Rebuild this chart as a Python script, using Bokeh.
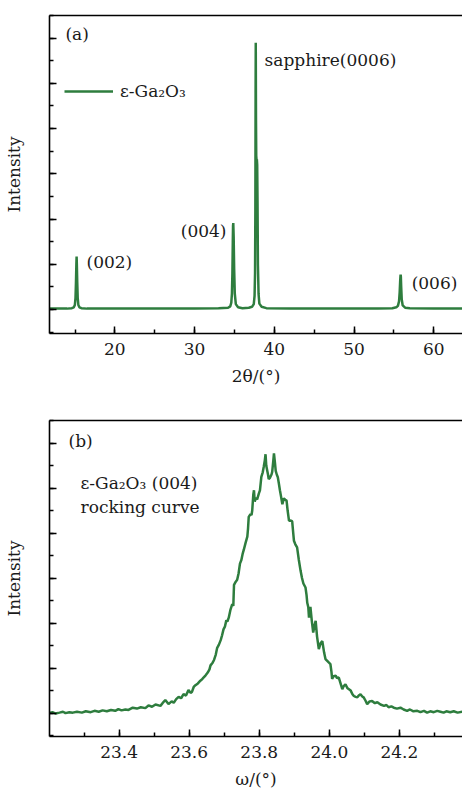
from bokeh.plotting import figure
from bokeh.models import (ColumnDataSource, Label, LinearAxis, SingleIntervalTicker, FixedTicker,
                          Range1d, CustomJSTickFormatter, PrintfTickFormatter)
from bokeh.layouts import column
from bokeh.embed import file_html
from bokeh.resources import INLINE

# ---------------- data: panel (a) XRD 2theta scan ----------------
two_theta = [11.8, 13.0, 14.0, 14.6, 14.85, 14.98, 15.06, 15.12, 15.17, 15.2, 15.23, 15.28, 15.34,
             15.42, 15.55, 15.8, 16.5, 20.0, 25.0, 30.0, 33.0, 34.2,
             34.47, 34.6, 34.68, 34.74, 34.79, 34.82, 34.85, 34.9, 34.96, 35.04, 35.17, 35.45, 36.0, 36.8,
             37.2, 37.42, 37.52, 37.58, 37.62, 37.65, 37.67, 37.70, 37.73, 37.77, 37.81, 37.85, 37.89,
             37.94, 38.02, 38.12, 38.4, 39.0, 42.0, 46.0, 50.0, 53.0, 54.8,
             55.3, 55.5, 55.64, 55.72, 55.78, 55.82, 55.84, 55.87, 55.91, 55.98, 56.1, 56.4, 57.0, 60.0, 63.6]
xrd_intensity = [0.02, 0.02, 0.02, 0.03, 0.05, 0.10, 0.25, 0.60, 1.00, 1.17, 1.00, 0.60, 0.25,
                 0.10, 0.05, 0.03, 0.02, 0.02, 0.02, 0.02, 0.03, 0.04,
                 0.07, 0.15, 0.35, 0.80, 1.50, 1.85, 1.91, 1.60, 0.90, 0.35, 0.12, 0.05, 0.03, 0.04,
                 0.06, 0.12, 0.30, 0.80, 2.20, 4.80, 5.90, 4.20, 3.40, 3.30, 3.32, 3.20, 2.40,
                 1.00, 0.35, 0.13, 0.06, 0.03, 0.02, 0.02, 0.02, 0.02, 0.03,
                 0.05, 0.08, 0.18, 0.38, 0.62, 0.74, 0.77, 0.72, 0.50, 0.22, 0.09, 0.04, 0.03, 0.02, 0.02]

# ---------------- data: panel (b) rocking curve ----------------
omega = [23.200, 23.210, 23.219, 23.230, 23.240, 23.247, 23.258, 23.268, 23.280, 23.294, 23.305, 23.319,
         23.330, 23.342, 23.353, 23.365, 23.377, 23.389, 23.398, 23.407, 23.418, 23.427, 23.439, 23.451,
         23.462, 23.475, 23.484, 23.494, 23.504, 23.518, 23.524, 23.532, 23.541, 23.550, 23.556, 23.563,
         23.570, 23.577, 23.584, 23.591, 23.598, 23.604, 23.608, 23.613, 23.618, 23.625, 23.632, 23.637,
         23.641, 23.647, 23.653, 23.658, 23.661, 23.667, 23.671, 23.676, 23.680, 23.685, 23.690, 23.694,
         23.698, 23.702, 23.706, 23.709, 23.713, 23.718, 23.723, 23.726, 23.728, 23.733, 23.737, 23.741,
         23.745, 23.749, 23.753, 23.756, 23.761, 23.766, 23.768, 23.770, 23.775, 23.778, 23.780, 23.783,
         23.785, 23.787, 23.790, 23.794, 23.799, 23.802, 23.806, 23.810, 23.813, 23.816, 23.818, 23.820,
         23.823, 23.825, 23.827, 23.830, 23.832, 23.835, 23.837, 23.840, 23.842, 23.845, 23.847, 23.850,
         23.853, 23.856, 23.859, 23.862, 23.866, 23.868, 23.870, 23.874, 23.878, 23.881, 23.885, 23.890,
         23.894, 23.897, 23.899, 23.903, 23.908, 23.913, 23.918, 23.922, 23.926, 23.932, 23.935, 23.937,
         23.940, 23.942, 23.944, 23.946, 23.950, 23.954, 23.958, 23.961, 23.965, 23.970, 23.975, 23.980,
         23.985, 23.989, 23.994, 23.999, 24.003, 24.006, 24.008, 24.012, 24.018, 24.022, 24.027, 24.032,
         24.037, 24.041, 24.046, 24.052, 24.061, 24.066, 24.070, 24.075, 24.080, 24.084, 24.089, 24.094,
         24.098, 24.103, 24.108, 24.115, 24.122, 24.130, 24.137, 24.146, 24.156, 24.163, 24.169, 24.177,
         24.184, 24.193, 24.203, 24.212, 24.222, 24.230, 24.240, 24.251, 24.260, 24.270, 24.279, 24.288,
         24.298, 24.308, 24.317, 24.326, 24.334, 24.345, 24.355, 24.366, 24.379]
rc_intensity = [0.00, 0.02, -0.01, 0.01, 0.03, 0.00, 0.02, 0.01, 0.03, 0.01, 0.04, 0.02,
                0.05, 0.03, 0.06, 0.04, 0.07, 0.05, 0.09, 0.06, 0.08, 0.07, 0.12, 0.10,
                0.13, 0.11, 0.17, 0.14, 0.19, 0.16, 0.22, 0.29, 0.20, 0.26, 0.23, 0.31,
                0.36, 0.33, 0.42, 0.39, 0.51, 0.45, 0.47, 0.58, 0.62, 0.66, 0.72, 0.75,
                0.79, 0.84, 0.90, 0.97, 1.06, 1.12, 1.18, 1.30, 1.45, 1.52, 1.62, 1.73,
                1.86, 1.92, 2.06, 2.03, 2.12, 2.30, 2.42, 2.38, 2.85, 2.92, 2.96, 3.10,
                3.32, 3.40, 3.55, 3.63, 3.78, 3.92, 4.10, 4.36, 4.42, 4.40, 4.50, 4.85,
                4.95, 4.70, 4.78, 4.75, 4.88, 4.95, 5.25, 5.35, 5.48, 5.62, 5.75, 5.50,
                5.38, 5.30, 5.20, 5.22, 5.25, 5.30, 5.36, 5.60, 5.77, 5.55, 5.38, 5.30,
                5.24, 5.10, 4.95, 4.82, 4.64, 4.70, 4.77, 4.74, 4.72, 4.50, 4.27, 4.28,
                4.26, 4.00, 3.83, 3.75, 3.68, 3.40, 3.16, 3.00, 2.88, 2.79, 2.62, 2.45,
                2.35, 2.12, 2.30, 2.36, 2.05, 1.79, 1.95, 2.05, 1.70, 1.42, 1.55, 1.60,
                1.35, 1.20, 1.16, 1.12, 1.09, 0.92, 0.76, 0.82, 0.83, 0.78, 0.79, 0.66,
                0.53, 0.60, 0.64, 0.55, 0.50, 0.42, 0.38, 0.36, 0.35, 0.39, 0.42, 0.37,
                0.35, 0.28, 0.20, 0.26, 0.27, 0.22, 0.24, 0.19, 0.16, 0.18, 0.13, 0.15,
                0.12, 0.10, 0.12, 0.08, 0.05, 0.08, 0.04, 0.05, 0.02, 0.05, 0.01, 0.04,
                0.02, 0.05, 0.03, 0.01, 0.04, 0.02, 0.04, 0.01, 0.03]

legend_text = "ε-Ga₂O₃"
peak_labels = ["(002)", "(004)", "sapphire(0006)", "(006)"]

GREEN = "#2e7d3e"
FONT = "DejaVu Serif"
FS = "17px"
TXT = "#1a1a1a"


def style(p, interval, fmt):
    p.xgrid.visible = False
    p.ygrid.visible = False
    p.outline_line_color = None
    p.background_fill_color = "white"
    p.border_fill_color = "white"
    xb = p.below[0]
    yl = p.left[0]
    for ax in (xb, yl):
        ax.axis_line_width = 1.6
        ax.axis_line_color = "black"
        ax.major_tick_line_color = "black"
        ax.minor_tick_line_color = "black"
        ax.major_tick_line_width = 1.5
        ax.minor_tick_line_width = 1.5
        ax.major_tick_in = 7
        ax.major_tick_out = 0
        ax.minor_tick_in = 4
        ax.minor_tick_out = 0
        ax.axis_label_text_font = FONT
        ax.axis_label_text_font_size = FS
        ax.axis_label_text_font_style = "normal"
        ax.axis_label_text_color = TXT
        ax.major_label_text_font = FONT
        ax.major_label_text_font_size = FS
        ax.major_label_text_color = TXT
    xb.ticker = SingleIntervalTicker(interval=interval, num_minor_ticks=2)
    xb.formatter = PrintfTickFormatter(format=fmt)
    yl.ticker = SingleIntervalTicker(interval=1, num_minor_ticks=2)
    yl.formatter = CustomJSTickFormatter(code="return ''")
    yl.major_label_standoff = 0
    yl.axis_label = "Intensity"
    yl.axis_label_standoff = 26
    xb.major_label_standoff = 9
    xb.axis_label_standoff = 8
    top = LinearAxis(ticker=FixedTicker(ticks=[]), axis_line_width=1.6, axis_line_color="black",
                     major_tick_in=0, major_tick_out=0, minor_tick_in=0, minor_tick_out=0)
    p.add_layout(top, "above")
    return xb, yl


def label(p, x, y, t, align="left"):
    p.add_layout(Label(x=x, y=y, text=t, text_font=FONT, text_font_size=FS, text_color=TXT,
                       text_align=align, text_baseline="middle"))


# ---------------- panel (a) ----------------
p1 = figure(width=462, height=396, output_backend="svg", toolbar_location=None,
            x_range=Range1d(11.8, 63.6), y_range=Range1d(-0.53, 6.5),
            min_border_left=49, min_border_right=0, min_border_top=15, min_border_bottom=63)
src1 = ColumnDataSource(dict(x=two_theta, y=xrd_intensity))
p1.line("x", "y", source=src1, line_color=GREEN, line_width=2.5, legend_label=legend_text)
xb1, yl1 = style(p1, 10, "%d")
xb1.axis_label = "2θ/(°)"
p1.legend.location = (15, 232)
p1.legend.background_fill_alpha = 0
p1.legend.border_line_color = None
p1.legend.glyph_width = 49
p1.legend.label_standoff = 7
p1.legend.padding = 0
p1.legend.margin = 0
p1.legend.label_text_font = FONT
p1.legend.label_text_font_size = FS
p1.legend.label_text_color = TXT

label(p1, 13.8, 6.09, "(a)")
label(p1, 16.44, 1.05, peak_labels[0])
label(p1, 34.0, 1.74, peak_labels[1], align="right")
label(p1, 38.78, 5.51, peak_labels[2])
label(p1, 57.22, 0.59, peak_labels[3])

# ---------------- panel (b) ----------------
p2 = figure(width=462, height=396, output_backend="svg", toolbar_location=None,
            x_range=Range1d(23.2015, 24.38), y_range=Range1d(-0.52, 6.5),
            min_border_left=48, min_border_right=0, min_border_top=24, min_border_bottom=56)
src2 = ColumnDataSource(dict(x=omega, y=rc_intensity))
p2.line("x", "y", source=src2, line_color=GREEN, line_width=2.5)
xb2, yl2 = style(p2, 0.2, "%.1f")
xb2.axis_label = "ω/(°)"

label(p2, 23.256, 6.05, "(b)")
label(p2, 23.290, 5.12, "ε-Ga₂O₃ (004)")
label(p2, 23.290, 4.57, "rocking curve")

layout = column(p1, p2, spacing=0)
open("out.html", "w").write(file_html(layout, INLINE))
